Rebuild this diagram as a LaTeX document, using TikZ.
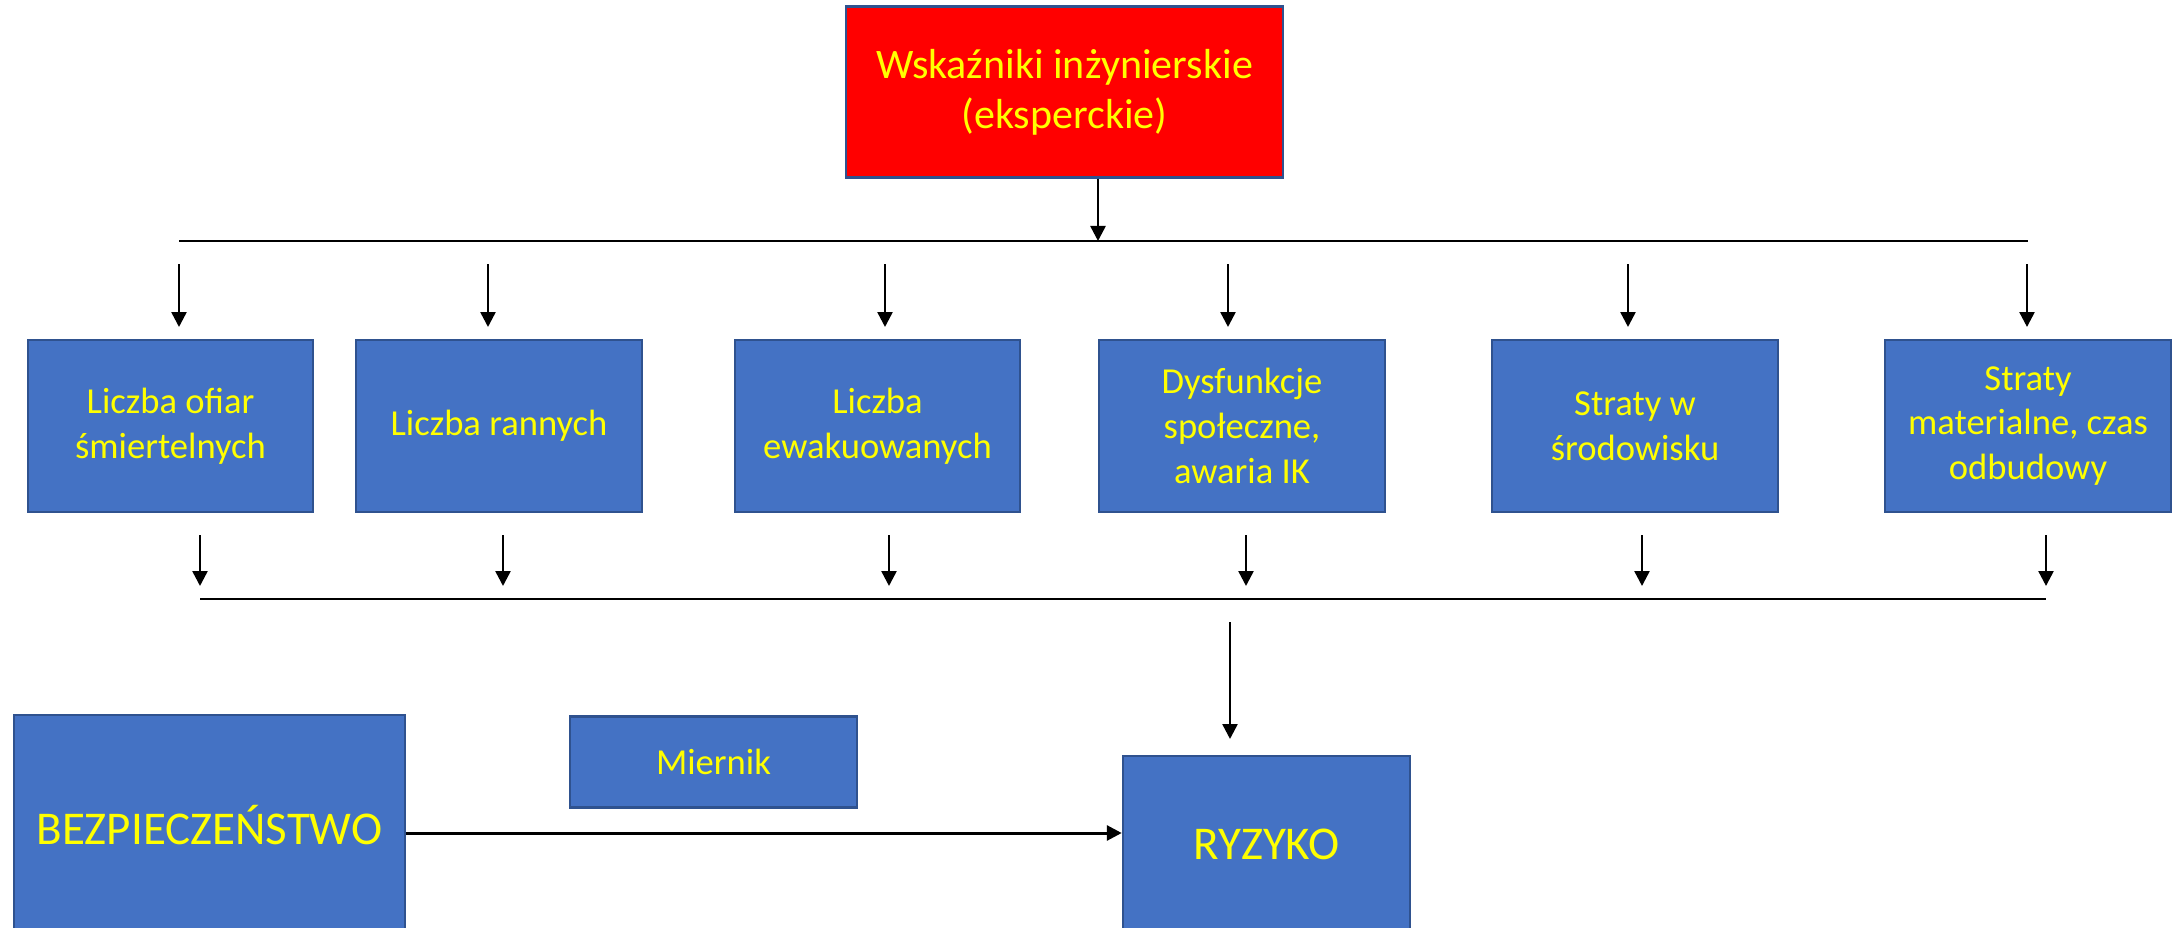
\documentclass[tikz,border=0pt]{standalone}
\usepackage{fontspec}
\setmainfont{Carlito}
\usetikzlibrary{arrows.meta}

\definecolor{boxblue}{HTML}{4472C4}
\definecolor{boxedge}{HTML}{2F528F}
\definecolor{txtyellow}{HTML}{FFFF00}
\definecolor{headred}{HTML}{FF0000}

\tikzset{
  blk/.style={draw=boxedge, fill=boxblue, line width=2.5pt, text=txtyellow,
    align=center, inner sep=0pt, font=\fontsize{36.6}{44.6}\selectfont},
  headbox/.style={blk, fill=headred, font=\fontsize{42}{50}\selectfont},
  bigbox/.style={blk, font=\fontsize{47}{57}\selectfont},
  bus/.style={line width=2pt, black},
  flow/.style={line width=2.5pt, black, -{Triangle[length=15pt,width=15pt]}},
  mainflow/.style={line width=3pt, black, -{Triangle[length=15pt,width=15pt]}},
}

\begin{document}
\begin{tikzpicture}[x=1pt, y=-1pt]
\useasboundingbox (0,0) rectangle (2174,928);
\clip (0,0) rectangle (2174,928);

% header box
\node[headbox, minimum width=437, minimum height=171] (head) at (1064.5,92)
  {Wskaźniki inżynierskie\\(eksperckie)};

% row of indicator boxes
\node[blk, minimum width=285, minimum height=172] (b1) at (170.5,426) {Liczba ofiar\\śmiertelnych};
\node[blk, minimum width=286, minimum height=172] (b2) at (499,426) {Liczba rannych};
\node[blk, minimum width=285, minimum height=172] (b3) at (877.5,426) {Liczba\\ewakuowanych};
\node[blk, minimum width=286, minimum height=172] (b4) at (1242,426) {Dysfunkcje\\społeczne,\\awaria IK};
\node[blk, minimum width=286, minimum height=172] (b5) at (1635,426) {Straty w\\środowisku};
\node[blk, minimum width=286, minimum height=172] (b6) at (2028,426) {Straty\\materialne, czas\\odbudowy};

% bottom boxes
\node[bigbox, minimum width=391, minimum height=220] (safe) at (209.5,825) {BEZPIECZEŃSTWO};
\node[blk, minimum width=287, minimum height=91] (meter) at (713.5,762) {Miernik};
\node[bigbox, minimum width=287, minimum height=176] (risk) at (1266.5,844) {RYZYKO};

% upper distribution bus
\coordinate (tl) at (179,241);
\coordinate (tr) at (2028,241);
\coordinate (thub) at (1098,241);
\draw[bus] (tl) -- (tr);
\draw[flow] (head.south -| thub) -- (thub);

% arrows into the boxes
\foreach \x [count=\i] in {179,488,885,1228,1628,2027} {
  \coordinate (ua\i) at (\x,264);
  \coordinate (ub\i) at (\x,327);
  \draw[flow] (ua\i) -- (ub\i);
}

% arrows out of the boxes
\foreach \x [count=\i] in {200,503,889,1246,1642,2046} {
  \coordinate (la\i) at (\x,535);
  \coordinate (lb\i) at (\x,586);
  \draw[flow] (la\i) -- (lb\i);
}

% lower collecting bus
\coordinate (bl) at (200,599);
\coordinate (br) at (2046,599);
\draw[bus] (bl) -- (br);

% arrow down towards the risk box
\coordinate (rtop) at (1230,622);
\coordinate (rtip) at (1230,739);
\draw[flow] (rtop) -- (rtip);

% safety to risk
\draw[mainflow] (safe.east |- 0,833) -- (risk.west |- 0,833);
\end{tikzpicture}
\end{document}
